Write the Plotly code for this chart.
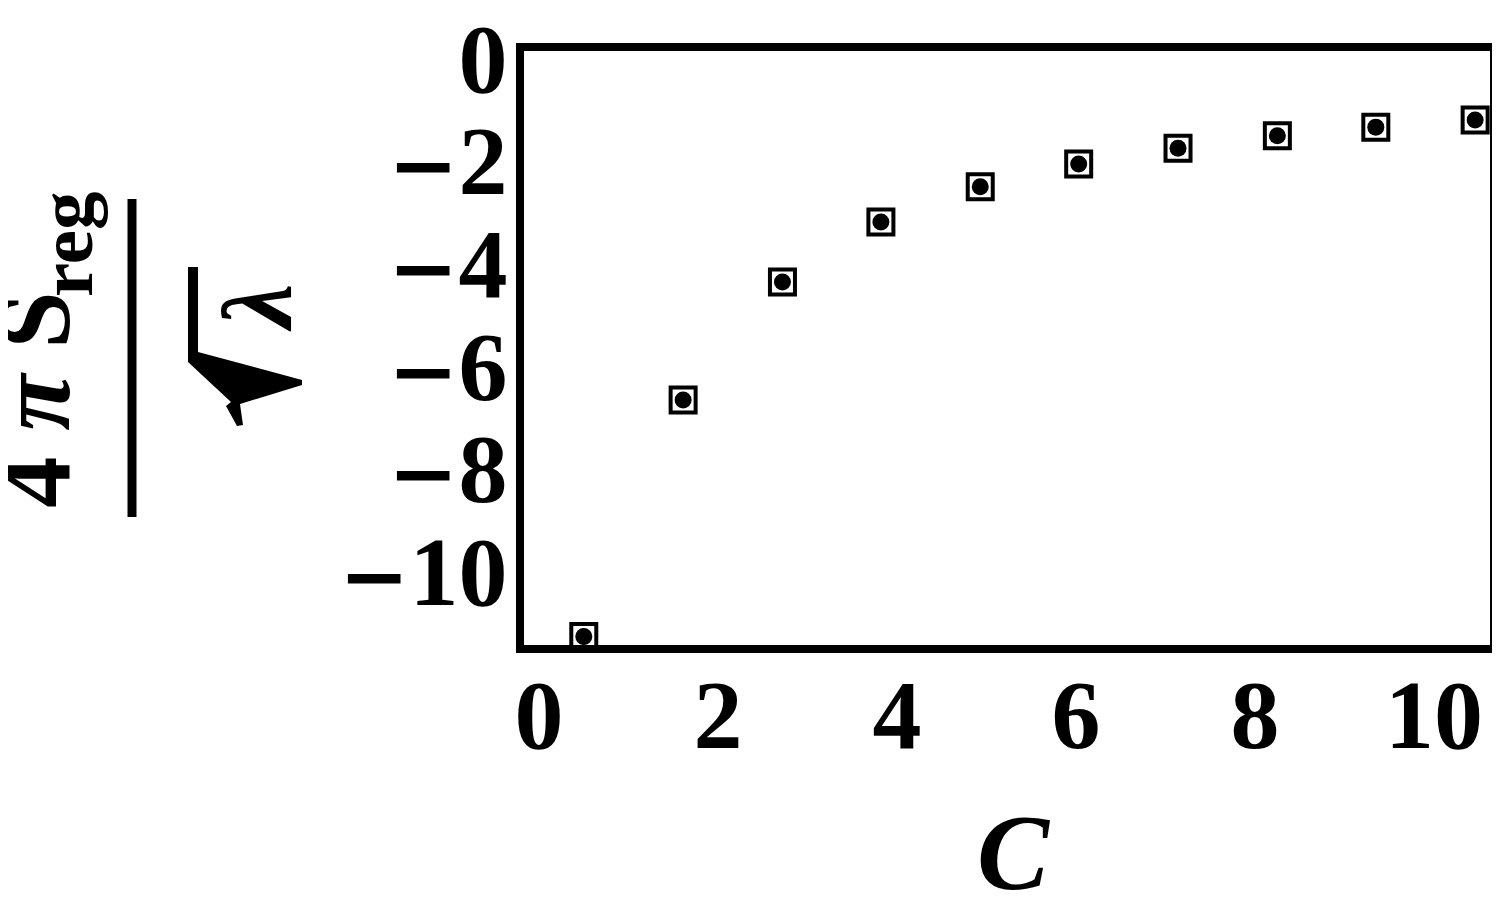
import plotly.graph_objects as go

# values
c_vals = [0.5, 1.61, 2.72, 3.82, 4.93, 6.03, 7.14, 8.25, 9.35, 10.46]
s_vals = [-11.25, -6.64, -4.34, -3.17, -2.48, -2.04, -1.73, -1.49, -1.32, -1.18]

x_ticks = [0, 2, 4, 6, 8, 10]
y_ticks = [0, -2, -4, -6, -8, -10]

# page / plot box in pixels (page coords); the html body adds an 8px margin
W_PAGE, H_PAGE = 1500, 915
OFF = 8
L, R, T, B = 524, 1490, 51, 645

FONT = "Liberation Serif"
MINUS = '<span style="font-family:DejaVu Serif;font-size:84px">\u2212</span>'


def px(x):
    return (x - L) / (R - L)


def py(y):
    return (B - y) / (B - T)


def ylab(v):
    if v < 0:
        return MINUS + str(-v)
    return str(v)


fig = go.Figure()

fig.add_trace(
    go.Scatter(
        x=c_vals,
        y=s_vals,
        mode="markers",
        marker=dict(symbol="square-open", size=25, color="black", line=dict(width=4)),
        showlegend=False,
    )
)
fig.add_trace(
    go.Scatter(
        x=c_vals,
        y=s_vals,
        mode="markers",
        marker=dict(symbol="circle", size=17, color="black"),
        showlegend=False,
    )
)

axis_style = dict(
    showline=True,
    linewidth=8,
    linecolor="black",
    mirror=True,
    showgrid=False,
    zeroline=False,
    automargin=False,
    ticks="",
    ticklabeloverflow="allow",
    tickfont=dict(family=FONT, size=98, color="black", weight="bold"),
)

fig.update_xaxes(range=[-0.168, 10.626], tickvals=x_ticks, ticklabelstandoff=-23, **axis_style)
fig.update_yaxes(range=[-11.415, 0.164], tickvals=y_ticks,
                 ticktext=[ylab(v) for v in y_ticks], ticklabelstandoff=-11,
                 ticklabelshift=-2, **axis_style)

# y title as a rotated fraction: 4 pi S_reg / sqrt(lambda)
ann = []
ann.append(dict(text="<b>4 <i>π</i> S</b>", x=px(34), y=py(399), textangle=-90,
                font=dict(family=FONT, size=103, color="black")))
ann.append(dict(text="<b>reg</b>", x=px(66), y=py(245), textangle=-90,
                font=dict(family=FONT, size=77, color="black")))
ann.append(dict(text="<b><i>λ</i></b>", x=px(257), y=py(308), textangle=-90,
                font=dict(family=FONT, size=100, color="black")))
ann.append(dict(text="<b><i>C</i></b>", x=px(1014), y=py(852),
                font=dict(family=FONT, size=108, color="black")))
for a in ann:
    a.update(xref="paper", yref="paper", xanchor="center", yanchor="middle", showarrow=False)

shapes = []
# fraction bar
shapes.append(dict(type="line", xref="paper", yref="paper",
                   x0=px(132), x1=px(132), y0=py(199), y1=py(517),
                   line=dict(color="black", width=9)))
# radical sign
rad = [(188, 267), (198, 267), (198, 352), (302, 380), (302, 385), (240, 404),
       (243, 425), (237, 426), (226, 406), (231, 402), (188, 362)]
path = "M " + " L ".join(f"{px(a):.5f},{py(b):.5f}" for a, b in rad) + " Z"
shapes.append(dict(type="path", xref="paper", yref="paper", path=path,
                   fillcolor="black", line=dict(width=0)))

fig.update_layout(
    width=W_PAGE - OFF,
    height=H_PAGE - OFF,
    autosize=False,
    margin=dict(l=L - OFF, r=W_PAGE - R, t=T - OFF, b=H_PAGE - B),
    plot_bgcolor="white",
    paper_bgcolor="white",
    annotations=ann,
    shapes=shapes,
)

fig.write_html("out.html")
